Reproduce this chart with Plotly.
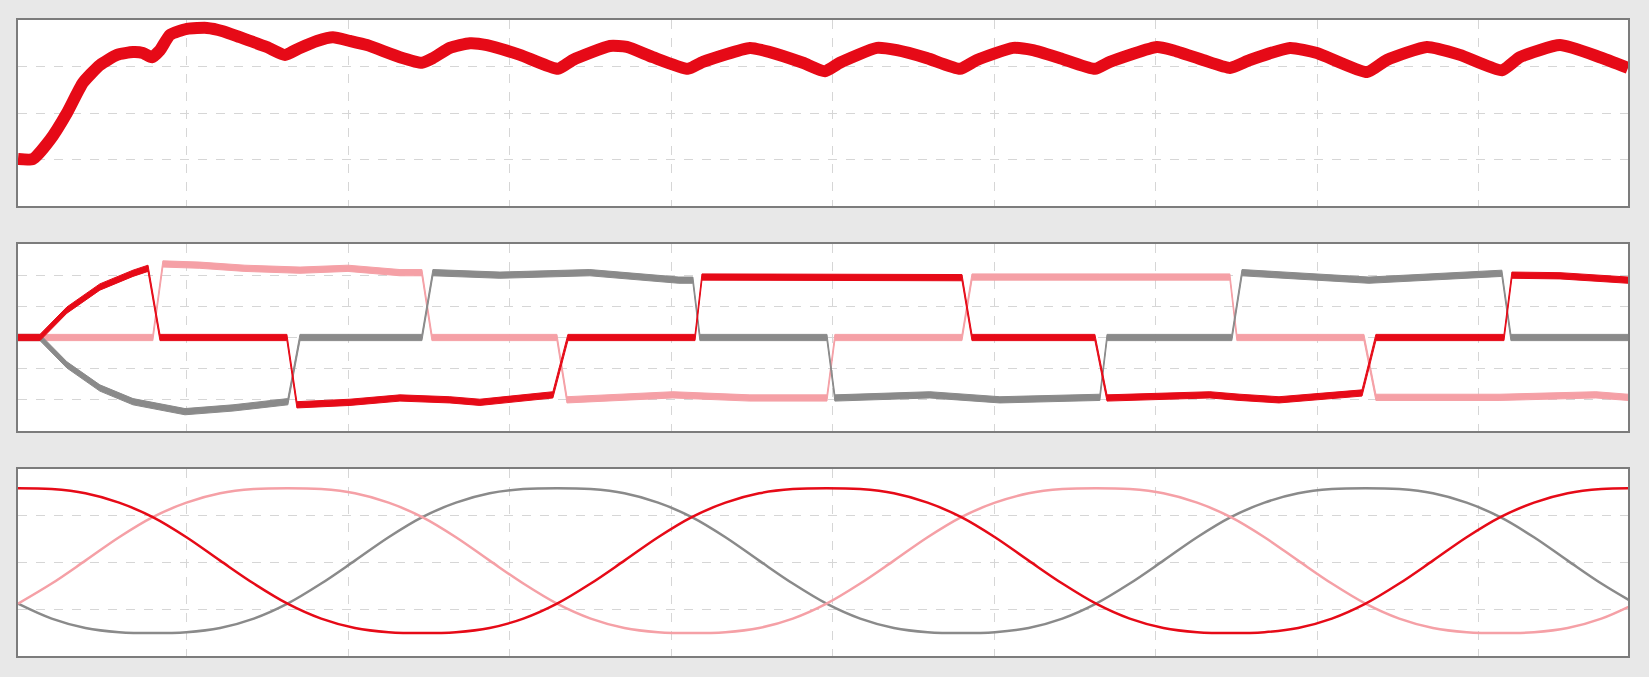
import plotly.graph_objects as go

# ---------------- data ----------------
# Panel 1: speed-like trace
t1 = [-0.046, 0.046, 0.152, 0.257, 0.356, 0.461, 0.567, 0.666, 0.728, 0.783, 0.833, 0.895,
      1.0, 1.124, 1.223, 1.328, 1.495, 1.607, 1.7, 1.805, 1.904, 2.009, 2.115, 2.319, 2.455,
      2.523, 2.628, 2.752, 2.858, 3.062, 3.297, 3.39, 3.619, 3.724, 3.885, 4.102, 4.195, 4.486,
      4.61, 4.814, 4.95, 5.043, 5.272, 5.396, 5.582, 5.786, 5.892, 6.115, 6.238, 6.406, 6.622,
      6.715, 7.006, 7.105, 7.291, 7.458, 7.582, 7.83, 7.997, 8.307, 8.43, 8.678, 8.882, 9.142,
      9.254, 9.502, 9.749, 9.923]
v1 = [1.01, 1.01, 1.42, 2.0, 2.65, 3.03, 3.25, 3.31, 3.29, 3.2, 3.35, 3.68,
      3.81, 3.83, 3.76, 3.63, 3.42, 3.25, 3.4, 3.55, 3.63, 3.55, 3.46, 3.2, 3.08,
      3.18, 3.4, 3.5, 3.46, 3.25, 2.95, 3.14, 3.44, 3.42, 3.2, 2.95, 3.1, 3.4,
      3.31, 3.08, 2.9, 3.08, 3.4, 3.35, 3.18, 2.95, 3.14, 3.4, 3.35, 3.18, 2.95,
      3.1, 3.42, 3.35, 3.14, 2.97, 3.14, 3.4, 3.29, 2.88, 3.14, 3.42, 3.25, 2.92,
      3.2, 3.46, 3.2, 2.97]

# Panel 2: three phase signals
t2_red = [-0.046, 0.09, 0.257, 0.461, 0.666, 0.759, 0.833, 1.619, 1.681, 2.009, 2.319, 2.628,
          2.814, 3.266, 3.359, 4.146, 4.189, 4.981, 5.799, 5.861, 6.622, 6.697, 7.334, 7.52,
          7.762, 8.276, 8.362, 9.155, 9.204, 9.502, 9.923]
v2_red = [0, 0, 0.44, 0.81, 1.03, 1.11, 0, 0, -1.08, -1.04, -0.97, -1.0,
          -1.04, -0.92, 0, 0, 0.97, 0.97, 0.96, 0, 0, -0.97, -0.92, -0.96,
          -1.0, -0.89, 0, 0, 1.0, 0.99, 0.92]
t2_pink = [-0.046, 0.789, 0.851, 1.08, 1.359, 1.7, 1.997, 2.319, 2.455, 2.517, 3.291, 3.353,
           4.009, 4.486, 4.963, 5.012, 5.799, 5.861, 6.653, 7.458, 7.501, 8.288, 8.362, 9.13,
           9.724, 9.923]
v2_pink = [0, 0, 1.18, 1.16, 1.11, 1.08, 1.11, 1.04, 1.04, 0, 0, -1.0,
           -0.92, -0.97, -0.97, 0, 0, 0.97, 0.97, 0.97, 0, 0, -0.96, -0.96,
           -0.92, -0.96]
t2_gray = [-0.046, 0.09, 0.257, 0.461, 0.666, 0.988, 1.285, 1.625, 1.7, 2.455, 2.523, 2.938,
           3.495, 4.046, 4.133, 4.176, 4.963, 5.012, 5.6, 6.034, 6.653, 6.697, 7.47, 7.533,
           8.319, 9.105, 9.142, 9.198, 9.923]
v2_gray = [0, 0, -0.44, -0.81, -1.03, -1.19, -1.13, -1.03, 0, 0, 1.04, 1.0,
           1.04, 0.92, 0.92, 0, 0, -0.97, -0.92, -1.0, -0.96, 0, 0, 1.04,
           0.92, 1.03, 1.03, 0, 0]

# Panel 3: smooth three-phase waveforms, sampled every 15 degrees
red3 = [3.59, 3.57, 3.48, 3.28, 2.97, 2.54, 2.04, 1.55, 1.12, 0.80, 0.60, 0.51, 0.49, 0.51, 0.60, 0.80,
        1.12, 1.55, 2.04, 2.54, 2.97, 3.28, 3.48, 3.57,
        3.59, 3.57, 3.48, 3.28, 2.97, 2.54, 2.04, 1.55, 1.12, 0.80, 0.60, 0.51, 0.49, 0.51, 0.60, 0.80,
        1.12, 1.55, 2.04, 2.54, 2.97, 3.28, 3.48, 3.57, 3.59]
pink3 = [1.12, 1.55, 2.04, 2.54, 2.97, 3.28, 3.48, 3.57, 3.59, 3.57, 3.48, 3.28, 2.97, 2.54, 2.04, 1.55,
         1.12, 0.80, 0.60, 0.51, 0.49, 0.51, 0.60, 0.80,
         1.12, 1.55, 2.04, 2.54, 2.97, 3.28, 3.48, 3.57, 3.59, 3.57, 3.48, 3.28, 2.97, 2.54, 2.04, 1.55,
         1.12, 0.80, 0.60, 0.51, 0.49, 0.51, 0.60, 0.80, 1.12]
gray3 = [1.12, 0.80, 0.60, 0.51, 0.49, 0.51, 0.60, 0.80, 1.12, 1.55, 2.04, 2.54, 2.97, 3.28, 3.48, 3.57,
         3.59, 3.57, 3.48, 3.28, 2.97, 2.54, 2.04, 1.55,
         1.12, 0.80, 0.60, 0.51, 0.49, 0.51, 0.60, 0.80, 1.12, 1.55, 2.04, 2.54, 2.97, 3.28, 3.48, 3.57,
         3.59, 3.57, 3.48, 3.28, 2.97, 2.54, 2.04, 1.55, 1.12]
t3_start = -0.046
t3_step = 0.2086

x_ticks = [1, 2, 3, 4, 5, 6, 7, 8, 9]

# ---------------- styling ----------------
W, H = 1649, 677
RED = "#e60a17"
PINK = "#f5a0a6"
GRAY = "#8a8a8a"
BG = "#e8e8e8"
BORDER = "#7c7c7c"
GRID = "#d6d6d6"
BAND = 0.05  # half thickness of noisy band in panel 2 (data units)

fig = go.Figure()

# Panel 1
fig.add_trace(go.Scatter(x=t1, y=v1, mode="lines",
                         line=dict(color=RED, width=12, shape="spline", smoothing=0.5),
                         xaxis="x", yaxis="y", showlegend=False, hoverinfo="skip"))

# Panel 2 as filled bands
for t, v, c in [(t2_pink, v2_pink, PINK), (t2_gray, v2_gray, GRAY), (t2_red, v2_red, RED)]:
    fig.add_trace(go.Scatter(x=t, y=[a + BAND for a in v], mode="lines",
                             line=dict(color=c, width=1), xaxis="x2", yaxis="y2",
                             showlegend=False, hoverinfo="skip"))
    fig.add_trace(go.Scatter(x=t, y=[a - BAND for a in v], mode="lines",
                             line=dict(color=c, width=1), fill="tonexty", fillcolor=c,
                             xaxis="x2", yaxis="y2", showlegend=False, hoverinfo="skip"))

# Panel 3
for v, c in [(gray3, GRAY), (pink3, PINK), (red3, RED)]:
    fig.add_trace(go.Scatter(y=v, x0=t3_start, dx=t3_step, mode="lines",
                             line=dict(color=c, width=2.5, shape="spline", smoothing=1.0),
                             xaxis="x3", yaxis="y3", showlegend=False, hoverinfo="skip"))


def xax(anchor):
    return dict(range=[-0.046, 9.923], tickvals=x_ticks, showticklabels=False, ticks="",
                showgrid=True, gridcolor=GRID, griddash="dash", gridwidth=1, zeroline=False,
                showline=True, mirror=True, linecolor=BORDER, linewidth=2,
                domain=[18 / W, 1628 / W], anchor=anchor, fixedrange=True)


def yax(anchor, rng, tv, top, bottom):
    return dict(range=rng, tickvals=tv, showticklabels=False, ticks="",
                showgrid=True, gridcolor=GRID, griddash="dash", gridwidth=1, zeroline=False,
                showline=True, mirror=True, linecolor=BORDER, linewidth=2,
                domain=[1 - bottom / H, 1 - top / H], anchor=anchor, fixedrange=True)


fig.update_layout(
    width=W, height=H, autosize=False,
    margin=dict(l=0, r=0, t=0, b=0, pad=0),
    paper_bgcolor=BG, plot_bgcolor="white",
    xaxis=xax("y"), yaxis=yax("x", [0, 4], [1, 2, 3], 20, 206),
    xaxis2=xax("y2"), yaxis2=yax("x2", [-1.5, 1.5], [-1, -0.5, 0, 0.5, 1], 244, 431),
    xaxis3=xax("y3"), yaxis3=yax("x3", [0, 4], [1, 2, 3], 469, 656),
)

fig.write_html("out.html", config={"displayModeBar": False})
